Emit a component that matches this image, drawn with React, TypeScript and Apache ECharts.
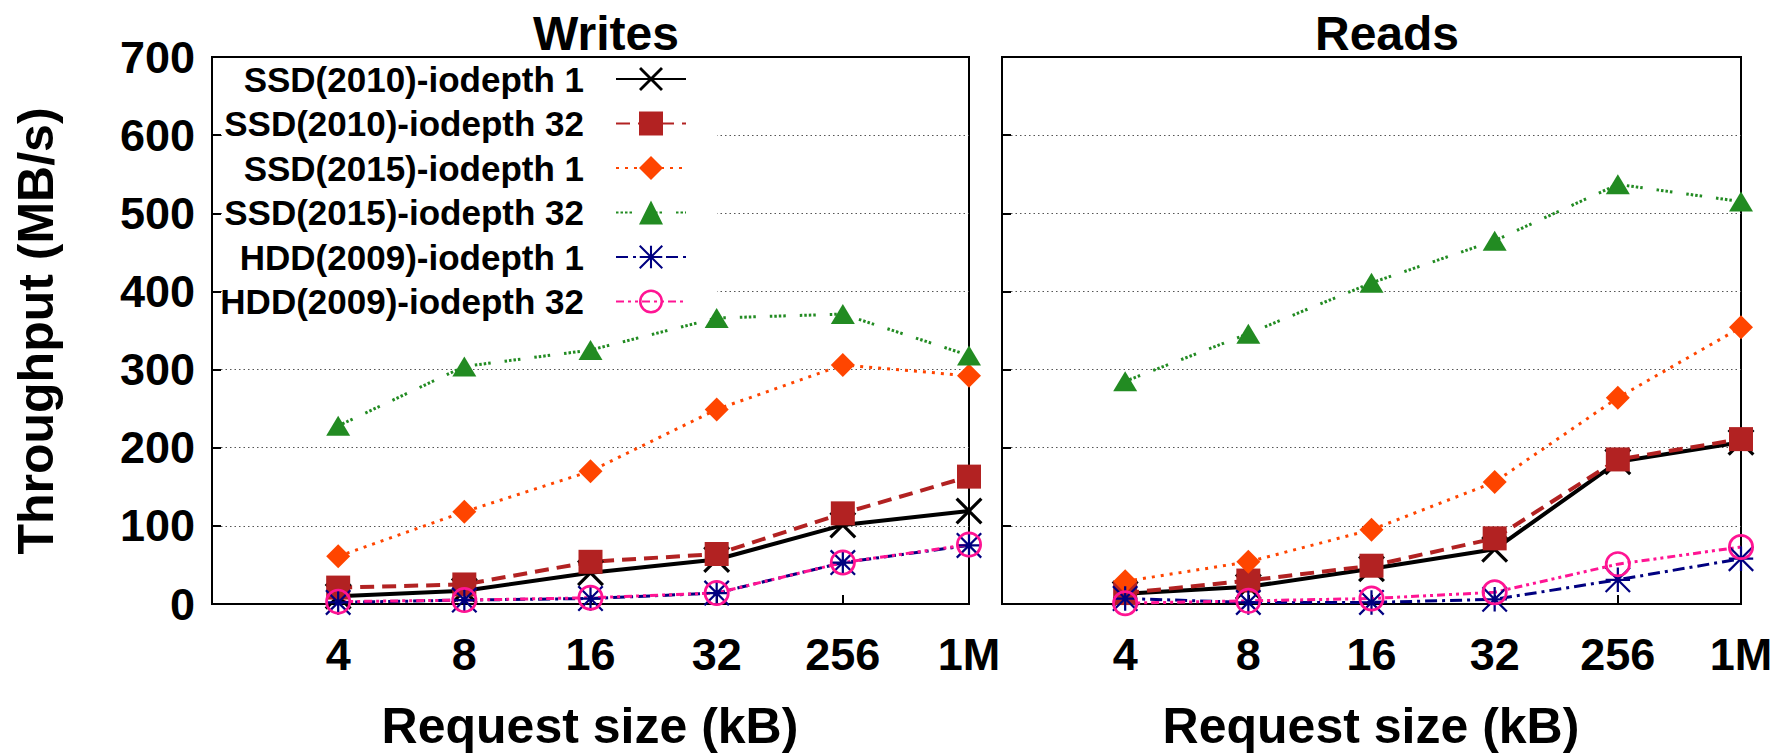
import React, { useEffect, useRef } from 'react';
import * as echarts from 'echarts';

// ---------- data ----------
const categories = ['4', '8', '16', '32', '256', '1M'];
const seriesNames = [
  'SSD(2010)-iodepth 1',
  'SSD(2010)-iodepth 32',
  'SSD(2015)-iodepth 1',
  'SSD(2015)-iodepth 32',
  'HDD(2009)-iodepth 1',
  'HDD(2009)-iodepth 32',
];

const writesSsd2010Qd1 = [10, 17, 40, 57, 101, 119];
const writesSsd2010Qd32 = [21, 25, 54, 64, 116, 163];
const writesSsd2015Qd1 = [61, 118, 170, 249, 306, 292];
const writesSsd2015Qd32 = [228, 304, 325, 366, 371, 318];
const writesHdd2009Qd1 = [2, 5, 7, 14, 53, 75];
const writesHdd2009Qd32 = [3, 5, 8, 14, 53, 76];

const readsSsd2010Qd1 = [13, 22, 45, 70, 182, 207];
const readsSsd2010Qd32 = [14, 30, 49, 84, 185, 211];
const readsSsd2015Qd1 = [29, 54, 95, 156, 264, 354];
const readsSsd2015Qd32 = [285, 346, 411, 465, 537, 515];
const readsHdd2009Qd1 = [7, 2, 2, 6, 31, 58];
const readsHdd2009Qd32 = [1, 4, 7, 15, 51, 73];

const yMin = 0;
const yMax = 700;
const yStep = 100;

// ---------- styles ----------
const FONT = '"Liberation Sans", Arial, Helvetica, sans-serif';

const X_PATH =
  'path://M1.1,-1.1L25.1,22.9L22.9,25.1L-1.1,1.1ZM22.9,-1.1L25.1,1.1L1.1,25.1L-1.1,22.9Z';
const AST_PATH =
  'path://M0.78,-0.78L24.78,23.22L23.22,24.78L-0.78,0.78Z' +
  'M24.78,0.78L0.78,24.78L-0.78,23.22L23.22,-0.78Z' +
  'M0,10.9L24,10.9L24,13.1L0,13.1Z' +
  'M10.9,0L13.1,0L13.1,24L10.9,24Z';
const RING_PATH =
  'path://M12,0A12,12 0 1,1 12,24A12,12 0 1,1 12,0Z' +
  'M12,2.5A9.5,9.5 0 1,0 12,21.5A9.5,9.5 0 1,0 12,2.5Z';

const styles: any[] = [
  { color: '#000000', width: 4, type: 'solid', symbol: X_PATH, size: 27 },
  { color: '#B22222', width: 4, type: [14, 8], symbol: 'rect', size: 24 },
  { color: '#FF4500', width: 3, type: [3, 6], symbol: 'diamond', size: 24 },
  { color: '#228B22', width: 3, type: [2.5, 2, 2.5, 2, 2.5, 2, 2.5, 14], symbol: 'triangle', size: [24, 20] },
  { color: '#000080', width: 3, type: [12, 5, 3, 5], symbol: AST_PATH, size: 26 },
  { color: '#FF1493', width: 3, type: [8, 4, 3, 4, 3, 4], symbol: RING_PATH, size: 26 },
];

const writesData = [
  writesSsd2010Qd1,
  writesSsd2010Qd32,
  writesSsd2015Qd1,
  writesSsd2015Qd32,
  writesHdd2009Qd1,
  writesHdd2009Qd32,
];
const readsData = [
  readsSsd2010Qd1,
  readsSsd2010Qd32,
  readsSsd2015Qd1,
  readsSsd2015Qd32,
  readsHdd2009Qd1,
  readsHdd2009Qd32,
];

const W = 1775;
const H = 756;
const grids = [
  { left: 212, top: 57, width: 757, height: 547 },
  { left: 1002, top: 57, width: 739, height: 547 },
];

function makeSeries(values: number[], idx: number, g: number) {
  const s = styles[idx];
  return {
    type: 'line',
    name: seriesNames[idx],
    xAxisIndex: g,
    yAxisIndex: g,
    data: values.map((v, i) => [i, v]),
    symbol: s.symbol,
    symbolSize: s.size,
    showSymbol: true,
    showAllSymbol: true,
    lineStyle: { color: s.color, width: s.width, type: s.type },
    itemStyle: { color: s.color, opacity: 1 },
    clip: false,
    z: 2,
    emphasis: { disabled: true },
    animation: false,
  };
}

function buildOption() {
  const labelStyle = {
    fontSize: 45,
    fontWeight: 'bold',
    fontFamily: FONT,
    color: '#000',
  };
  const xAxes = grids.map((_, g) => ({
    gridIndex: g,
    type: 'value',
    min: -1,
    max: categories.length - 1,
    interval: 1,
    axisLine: { show: false, onZero: false },
    axisTick: { show: true, inside: true, length: 9, lineStyle: { color: '#000', width: 2 } },
    axisLabel: {
      show: true,
      margin: 28,
      ...labelStyle,
      formatter: (v: number) => (v >= 0 && v < categories.length ? categories[v] : ''),
    },
    splitLine: { show: false },
  }));
  const yAxes = grids.map((_, g) => ({
    gridIndex: g,
    type: 'value',
    position: 'left',
    min: yMin,
    max: yMax,
    interval: yStep,
    axisLine: { show: false, onZero: false },
    axisTick: { show: true, inside: true, length: 9, lineStyle: { color: '#000', width: 2 } },
    axisLabel: { show: g === 0, margin: 17, ...labelStyle },
    splitLine: {
      show: true,
      showMinLine: false,
      showMaxLine: false,
      lineStyle: { color: '#555', width: 1, type: [1.5, 3] },
    },
  }));

  const series: any[] = [];
  writesData.forEach((vals, i) => series.push(makeSeries(vals, i, 0)));
  readsData.forEach((vals, i) => series.push(makeSeries(vals, i, 1)));

  const textStyle = (size: number) => ({
    fontSize: size,
    fontWeight: 'bold',
    fontFamily: FONT,
    fill: '#000',
    align: 'center',
    textAlign: 'center',
    verticalAlign: 'middle',
    textVerticalAlign: 'middle',
  });

  return {
    animation: false,
    backgroundColor: '#fff',
    grid: grids.map((g) => ({
      ...g,
      show: true,
      borderColor: '#000',
      borderWidth: 2,
      backgroundColor: 'transparent',
      containLabel: false,
      outerBoundsMode: 'none',
    })),
    xAxis: xAxes,
    yAxis: yAxes,
    legend: {
      data: seriesNames,
      orient: 'vertical',
      align: 'right',
      right: W - 687,
      top: 61,
      itemWidth: 70,
      itemHeight: 30,
      itemGap: 8.5,
      padding: 0,
      selectedMode: false,
      textStyle: {
        fontSize: 35,
        fontWeight: 'bold',
        fontFamily: FONT,
        color: '#000',
        lineHeight: 36,
        padding: [0, 27, 0, 0],
      },
    },
    graphic: [
      {
        type: 'rect',
        z: 1,
        shape: { x: 222, y: 59, width: 495, height: 267 },
        style: { fill: '#fff' },
        silent: true,
      },
      { type: 'text', x: 606, y: 33, style: { text: 'Writes', ...textStyle(48) } },
      { type: 'text', x: 1387, y: 33, style: { text: 'Reads', ...textStyle(48) } },
      { type: 'text', x: 590, y: 726, style: { text: 'Request size (kB)', ...textStyle(50) } },
      { type: 'text', x: 1371, y: 726, style: { text: 'Request size (kB)', ...textStyle(50) } },
      {
        type: 'text',
        x: 36,
        y: 331,
        rotation: Math.PI / 2,
        style: { text: 'Throughput (MB/s)', ...textStyle(50) },
      },
    ],
    series,
  };
}

export default function App() {
  const ref = useRef<HTMLDivElement>(null);
  useEffect(() => {
    if (!ref.current) return;
    const chart = echarts.init(ref.current, undefined, { renderer: 'svg' });
    chart.setOption(buildOption() as any);
    return () => chart.dispose();
  }, []);
  return (
    <div
      ref={ref}
      style={{ position: 'fixed', left: 0, top: 0, width: W, height: H, background: '#fff' }}
    />
  );
}
